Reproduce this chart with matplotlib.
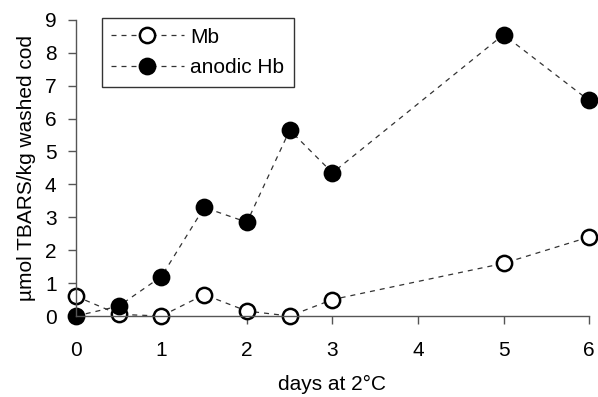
import matplotlib
matplotlib.use("Agg")
import matplotlib.pyplot as plt

days = [0, 0.5, 1, 1.5, 2, 2.5, 3, 5, 6]
mb = [0.6, 0.05, 0.0, 0.65, 0.15, 0.0, 0.5, 1.6, 2.4]
anodic_hb = [0.0, 0.3, 1.2, 3.3, 2.85, 5.65, 4.35, 8.55, 6.55]
xticks = [0, 1, 2, 3, 4, 5, 6]
yticks = list(range(0, 10))

plt.rcParams['font.family'] = ['Liberation Sans', 'DejaVu Sans']

fig = plt.figure(figsize=(5.98, 3.97), dpi=100)
ax = fig.add_axes([0.127, 0.204, 0.858, 0.746])

line_kw = dict(linestyle=(0, (4, 4)), color='#333333', linewidth=0.9,
               markersize=11, markeredgewidth=1.8, markeredgecolor='black')
ax.plot(days, mb, marker='o', markerfacecolor='white', label='Mb', clip_on=False, **line_kw)
ax.plot(days, anodic_hb, marker='o', markerfacecolor='black', label='anodic Hb', clip_on=False, **line_kw)

ax.set_xlim(0, 6)
ax.set_ylim(0, 9)
ax.set_xticks(xticks)
ax.set_yticks(yticks)
for s in ['top', 'right']:
    ax.spines[s].set_visible(False)
for s in ['left', 'bottom']:
    ax.spines[s].set_color('#555555')
    ax.spines[s].set_linewidth(1.0)
ax.tick_params(axis='both', labelsize=15, colors='#555555', labelcolor='black', length=6, width=1.0)
ax.tick_params(axis='x', pad=12)
ax.tick_params(axis='y', pad=8)

ax.set_xlabel('days at 2°C', fontsize=15, labelpad=11)
ax.set_ylabel('µmol TBARS/kg washed cod', fontsize=15, labelpad=6)

leg = ax.legend(loc='upper left', bbox_to_anchor=(0.05, 1.005), fontsize=15, frameon=True,
                fancybox=False, edgecolor='black', handlelength=3.5, borderpad=0.45,
                labelspacing=0.55, handletextpad=0.3, borderaxespad=0)
leg.get_frame().set_linewidth(1.0)

fig.savefig('out.png', dpi=100)
